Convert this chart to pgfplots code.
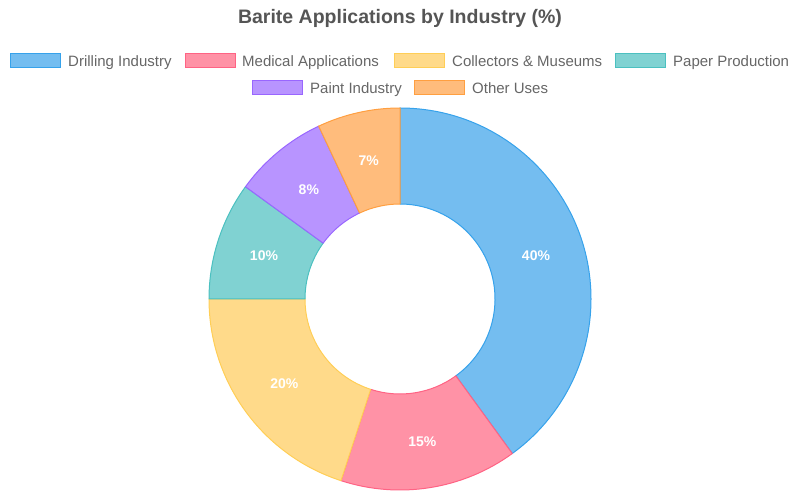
\documentclass[border=0pt]{standalone}
\usepackage{pgfplots}
\pgfplotsset{compat=1.18}
\usepackage{fontspec}
\setmainfont{Liberation Sans}

% fill / border colours of the six slices
\definecolor{drillfill}{RGB}{116,189,240}  \definecolor{drillline}{RGB}{54,162,235}
\definecolor{medfill}{RGB}{255,146,166}    \definecolor{medline}{RGB}{255,99,132}
\definecolor{collfill}{RGB}{255,218,138}   \definecolor{collline}{RGB}{255,206,86}
\definecolor{paperfill}{RGB}{128,210,210}  \definecolor{paperline}{RGB}{75,192,192}
\definecolor{paintfill}{RGB}{184,148,255}  \definecolor{paintline}{RGB}{153,102,255}
\definecolor{otherfill}{RGB}{255,188,124}  \definecolor{otherline}{RGB}{255,159,64}
\definecolor{legtext}{RGB}{102,102,102}
\definecolor{titletext}{RGB}{85,85,85}

\begin{document}
\begin{tikzpicture}
\begin{axis}[
    hide axis,
    scale only axis,
    width=798bp, height=498bp,
    xmin=0, xmax=798, ymin=0, ymax=498,
    clip=false,
]
% bounding box = full picture
\addplot[draw=none, forget plot] coordinates {(0,0) (798,498)};

\pgfplotsextra{
  % donut: centre (400,199), outer r 191, inner r 95, start at top, clockwise
  \begin{scope}[shift={(axis cs:400,199)}]
    \xdef\s{90}
    \foreach \v/\n in {40/drill,15/med,20/coll,10/paper,8/paint,7/other}{
      \pgfmathsetmacro\e{\s-3.6*\v}
      \pgfmathsetmacro\m{(\s+\e)/2}
      \filldraw[fill=\n fill, draw=\n line, line width=1bp, line join=round]
        (\s:191bp) arc[start angle=\s, end angle=\e, radius=191bp]
        -- (\e:95bp) arc[start angle=\e, end angle=\s, radius=95bp] -- cycle;
      \node[text=white, font=\fontsize{14bp}{16bp}\selectfont\bfseries]
        at ([yshift=-1bp]\m:143bp) {\v\%};
      \xdef\s{\e}
    }
  \end{scope}

  % title
  \node[text=titletext, font=\fontsize{19.5bp}{22bp}\selectfont\bfseries]
    at (axis cs:400,480) {Barite Applications by Industry (\%)};

  % legend
  \foreach \x/\t/\y/\n/\lab in {
      10/68/437/drill/Drilling Industry,
      185/242/437/med/Medical Applications,
      394/452/437/coll/Collectors \& Museums,
      615/673/437/paper/Paper Production,
      252/310/410/paint/Paint Industry,
      414/472/410/other/Other Uses}{
    \filldraw[fill=\n fill, draw=\n line, line width=1bp]
      (axis cs:\x,\y-7) rectangle (axis cs:\x+50,\y+7);
    \node[anchor=base west, inner sep=0pt, text=legtext,
          font=\fontsize{15bp}{17bp}\selectfont]
      at (axis cs:\t,\y-5.5) {\lab};
  }
}
\end{axis}
\end{tikzpicture}
\end{document}
